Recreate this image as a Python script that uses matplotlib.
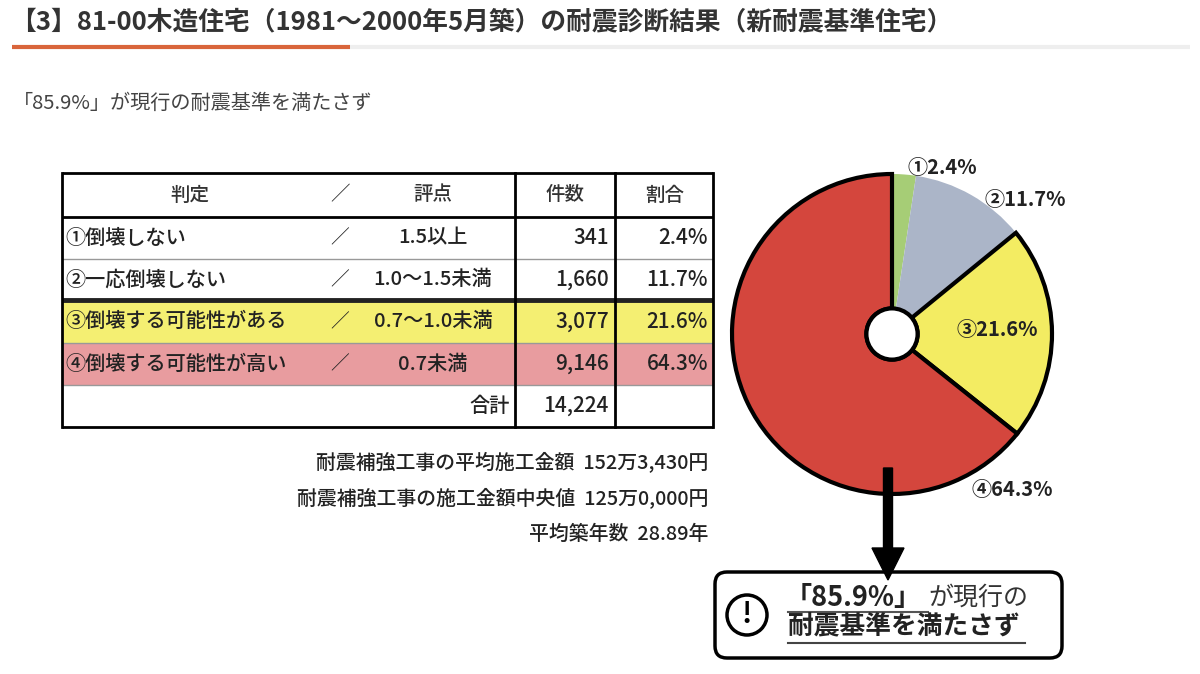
import matplotlib
matplotlib.use("Agg")
import matplotlib.pyplot as plt
from matplotlib.patches import Rectangle, Circle, FancyBboxPatch, FancyArrow

plt.rcParams['font.family'] = ['Noto Sans CJK JP', 'DejaVu Sans']

# data
title = "【3】81-00木造住宅（1981～2000年5月築）の耐震診断結果（新耐震基準住宅）"
subtitle = "「85.9%」が現行の耐震基準を満たさず"
headers = ["判定", "／", "評点", "件数", "割合"]
judgements = ["①倒壊しない", "②一応倒壊しない", "③倒壊する可能性がある", "④倒壊する可能性が高い"]
scores = ["1.5以上", "1.0～1.5未満", "0.7～1.0未満", "0.7未満"]
counts = [341, 1660, 3077, 9146]
shares = [2.4, 11.7, 21.6, 64.3]
total_label = "合計"
total_count = 14224
marks = ["①", "②", "③", "④"]
stats = ["耐震補強工事の平均施工金額  152万3,430円",
         "耐震補強工事の施工金額中央値  125万0,000円",
         "平均築年数  28.89年"]
callout_big = "「85.9%」"
callout_rest = "が現行の"
callout_line2 = "耐震基準を満たさず"

row_fills = ["white", "white", "#f4ef72", "#e89c9f"]
pie_colors = ["#a6cd76", "#abb5c8", "#f3ec62", "#d4463d"]

W, H = 1200, 674
fig = plt.figure(figsize=(W / 100, H / 100), dpi=100)

# pie axes (placed in pixel terms)
cx, cy, r = 892, 334, 160
pad = 1.05
ax_pie = fig.add_axes([(cx - r * pad) / W, (H - cy - r * pad) / H,
                       2 * r * pad / W, 2 * r * pad / H])
hole = 0.16
wedges, _ = ax_pie.pie(shares, colors=pie_colors, startangle=90, counterclock=False,
                       wedgeprops=dict(width=1 - hole, linewidth=0))
for i, w in enumerate(wedges):
    if i >= 2:
        w.set_edgecolor("black")
        w.set_linewidth(3)
        w.set_zorder(3)
    else:
        w.set_zorder(2)
ax_pie.add_patch(Circle((0, 0), hole, facecolor="white", edgecolor="black", lw=3, zorder=4))
ax_pie.set_xlim(-pad, pad)
ax_pie.set_ylim(-pad, pad)
ax_pie.axis("off")

# overlay axes in pixel coordinates
ax = fig.add_axes([0, 0, 1, 1])
ax.set_xlim(0, W)
ax.set_ylim(H, 0)
ax.axis("off")

# title + underline
ax.text(10, 22, title, fontsize=18.5, fontweight="bold", color="#333333", va="center", ha="left")
ax.plot([350, 1190], [47, 47], color="#eeeeee", lw=3, solid_capstyle="butt")
ax.plot([12, 350], [47, 47], color="#d9653b", lw=3, solid_capstyle="butt")
ax.text(13, 103, subtitle, fontsize=14.5, color="#444444", va="center", ha="left")

# table
x0, xc1, xc2, x1 = 62, 515, 615, 713
row_edges = [173, 217, 259, 300, 343, 385, 427]
for i, fc in enumerate(row_fills):
    ax.add_patch(Rectangle((x0, row_edges[i + 1]), x1 - x0, row_edges[i + 2] - row_edges[i + 1],
                           facecolor=fc, edgecolor="none", zorder=1))
line_w = [2, 2, 1, 3.5, 1, 1, 2]
line_c = ["black", "black", "#999999", "#222222", "#999999", "#999999", "black"]
for y, lw, c in zip(row_edges, line_w, line_c):
    ax.plot([x0, x1], [y, y], color=c, lw=lw, zorder=3, solid_capstyle="butt")
for x in [x0, xc1, xc2, x1]:
    ax.plot([x, x], [row_edges[0], row_edges[-1]], color="black", lw=2, zorder=3)

fs = 14.5
tc = "#222222"
hy = (row_edges[0] + row_edges[1]) / 2
for hx, h in zip([190, 340, 433, 565, 665], headers):
    ax.text(hx, hy, h, fontsize=fs - 0.5, color="#333333", ha="center", va="center",
            fontweight="medium", zorder=4)
for i in range(4):
    y = (row_edges[i + 1] + row_edges[i + 2]) / 2
    ax.text(65, y, judgements[i], fontsize=fs, color=tc, ha="left", va="center",
            fontweight="medium", zorder=4)
    ax.text(340, y, "／", fontsize=fs - 1, color=tc, ha="center", va="center", zorder=4)
    ax.text(433, y, scores[i], fontsize=fs, color=tc, ha="center", va="center",
            fontweight="medium", zorder=4)
    ax.text(609, y, f"{counts[i]:,}", fontsize=fs + 0.5, color=tc, ha="right", va="center",
            fontweight="medium", zorder=4)
    ax.text(708, y, f"{shares[i]}%", fontsize=fs + 0.5, color=tc, ha="right", va="center",
            fontweight="medium", zorder=4)
ty = (row_edges[5] + row_edges[6]) / 2
ax.text(510, ty, total_label, fontsize=fs, color=tc, ha="right", va="center",
        fontweight="medium", zorder=4)
ax.text(609, ty, f"{total_count:,}", fontsize=fs + 0.5, color=tc, ha="right", va="center",
        fontweight="medium", zorder=4)

# stats below table
for y, s in zip([463, 498, 534], stats):
    ax.text(708, y, s, fontsize=14.3, color=tc, ha="right", va="center", fontweight="medium")

# pie labels
label_pos = [(942, 168), (1025, 200), (997, 329), (1012, 490)]
for (lx, ly), m, s in zip(label_pos, marks, shares):
    ax.text(lx, ly, f"{m}{s}%", fontsize=14.5, fontweight="bold", color="#222222",
            ha="center", va="center")

# arrow
ax.add_patch(FancyArrow(888, 468, 0, 112, width=9, head_width=32, head_length=32,
                        length_includes_head=True, color="black", zorder=5))

# callout box
ax.add_patch(FancyBboxPatch((715, 572), 347, 86, boxstyle="round,pad=0,rounding_size=12",
                            facecolor="white", edgecolor="black", lw=2.5, zorder=4))
ax.add_patch(Circle((747, 615), 20, facecolor="white", edgecolor="black", lw=2.5, zorder=5))
ax.text(747, 615, "!", fontsize=20, fontweight="bold", ha="center", va="center", zorder=6)
ax.text(785, 598, callout_big, fontsize=19.5, fontweight="bold", color="#222222",
        ha="left", va="center", zorder=6)
ax.text(928, 598, callout_rest, fontsize=18, color="#333333", ha="left", va="center", zorder=6)
ax.plot([788, 928], [612, 612], color="#555555", lw=1.5, zorder=6)
ax.text(788, 627, callout_line2, fontsize=18.5, fontweight="bold", color="#222222",
        ha="left", va="center", zorder=6)
ax.plot([788, 1025], [643, 643], color="#444444", lw=1.5, zorder=6)

fig.savefig("out.png", dpi=100)
